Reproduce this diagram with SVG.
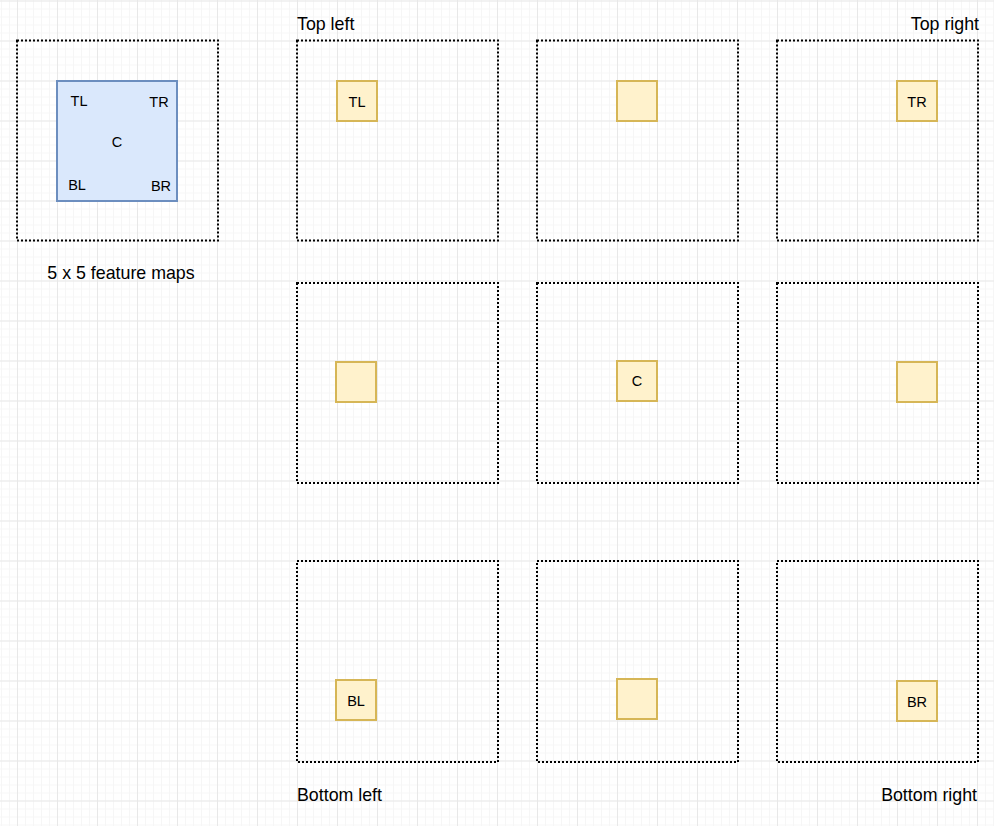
<svg xmlns="http://www.w3.org/2000/svg" width="994" height="826" viewBox="0 0 994 826">
<defs>
<pattern id="minor" x="1" y="0.5" width="8" height="8" patternUnits="userSpaceOnUse">
<path d="M0 0.5H8M0.5 0V8" fill="none" stroke="#f6f6f6" stroke-width="1"/>
</pattern>
<pattern id="major" x="17" y="0.5" width="40" height="40" patternUnits="userSpaceOnUse">
<path d="M0 0.5H40M0.5 0V40" fill="none" stroke="#e8e8e8" stroke-width="1"/>
</pattern>
</defs>
<style>
.frame{fill:none;stroke:#000;stroke-width:2;stroke-dasharray:2 2}
.cell{fill:#fff2cc;stroke:#d6b656;stroke-width:2}
.blue{fill:#dae8fc;stroke:#6c8ebf;stroke-width:2}
.lbl{font-family:"Liberation Sans",Arial,sans-serif;font-size:14.5px;fill:#000;text-anchor:middle}
.big{font-family:"Liberation Sans",Arial,sans-serif;font-size:17.8px;fill:#000}
</style>
<rect width="994" height="826" fill="#fff"/>
<rect width="994" height="826" fill="url(#minor)"/>
<rect width="994" height="826" fill="url(#major)"/>

<g id="source">
<rect class="frame" x="17" y="40.5" width="201" height="200"/>
<rect class="blue" x="57" y="81" width="120" height="120"/>
<text class="lbl" x="79" y="106">TL</text>
<text class="lbl" x="159" y="107">TR</text>
<text class="lbl" x="117" y="147">C</text>
<text class="lbl" x="77" y="190">BL</text>
<text class="lbl" x="161" y="191">BR</text>
<text class="big" x="121" y="279" text-anchor="middle">5 x 5 feature maps</text>
</g>

<g id="map-tl">
<rect class="frame" x="297" y="40.5" width="201" height="200"/>
<rect class="cell" x="337" y="81" width="40" height="40"/>
<text class="lbl" x="357" y="107">TL</text>
</g>
<g id="map-t">
<rect class="frame" x="537" y="40.5" width="201" height="200"/>
<rect class="cell" x="617" y="81" width="40" height="40"/>
</g>
<g id="map-tr">
<rect class="frame" x="777" y="40.5" width="201" height="200"/>
<rect class="cell" x="897" y="81" width="40" height="40"/>
<text class="lbl" x="917" y="107">TR</text>
</g>

<g id="map-l">
<rect class="frame" x="297" y="283" width="201" height="200"/>
<rect class="cell" x="336" y="362" width="40" height="40"/>
</g>
<g id="map-c">
<rect class="frame" x="537" y="283" width="201" height="200"/>
<rect class="cell" x="617" y="361" width="40" height="40"/>
<text class="lbl" x="637" y="386">C</text>
</g>
<g id="map-r">
<rect class="frame" x="777" y="283" width="201" height="200"/>
<rect class="cell" x="897" y="362" width="40" height="40"/>
</g>

<g id="map-bl">
<rect class="frame" x="297" y="561" width="201" height="201"/>
<rect class="cell" x="336" y="680" width="40" height="40"/>
<text class="lbl" x="356" y="706">BL</text>
</g>
<g id="map-b">
<rect class="frame" x="537" y="561" width="201" height="201"/>
<rect class="cell" x="617" y="679" width="40" height="40"/>
</g>
<g id="map-br">
<rect class="frame" x="777" y="561" width="201" height="201"/>
<rect class="cell" x="897" y="681" width="40" height="40"/>
<text class="lbl" x="917" y="707">BR</text>
</g>

<g id="headings">
<text class="big" x="297" y="30">Top left</text>
<text class="big" x="979" y="30" text-anchor="end">Top right</text>
<text class="big" x="297" y="801">Bottom left</text>
<text class="big" x="977" y="801" text-anchor="end">Bottom right</text>
</g>
<g id="connectors"></g>
</svg>
